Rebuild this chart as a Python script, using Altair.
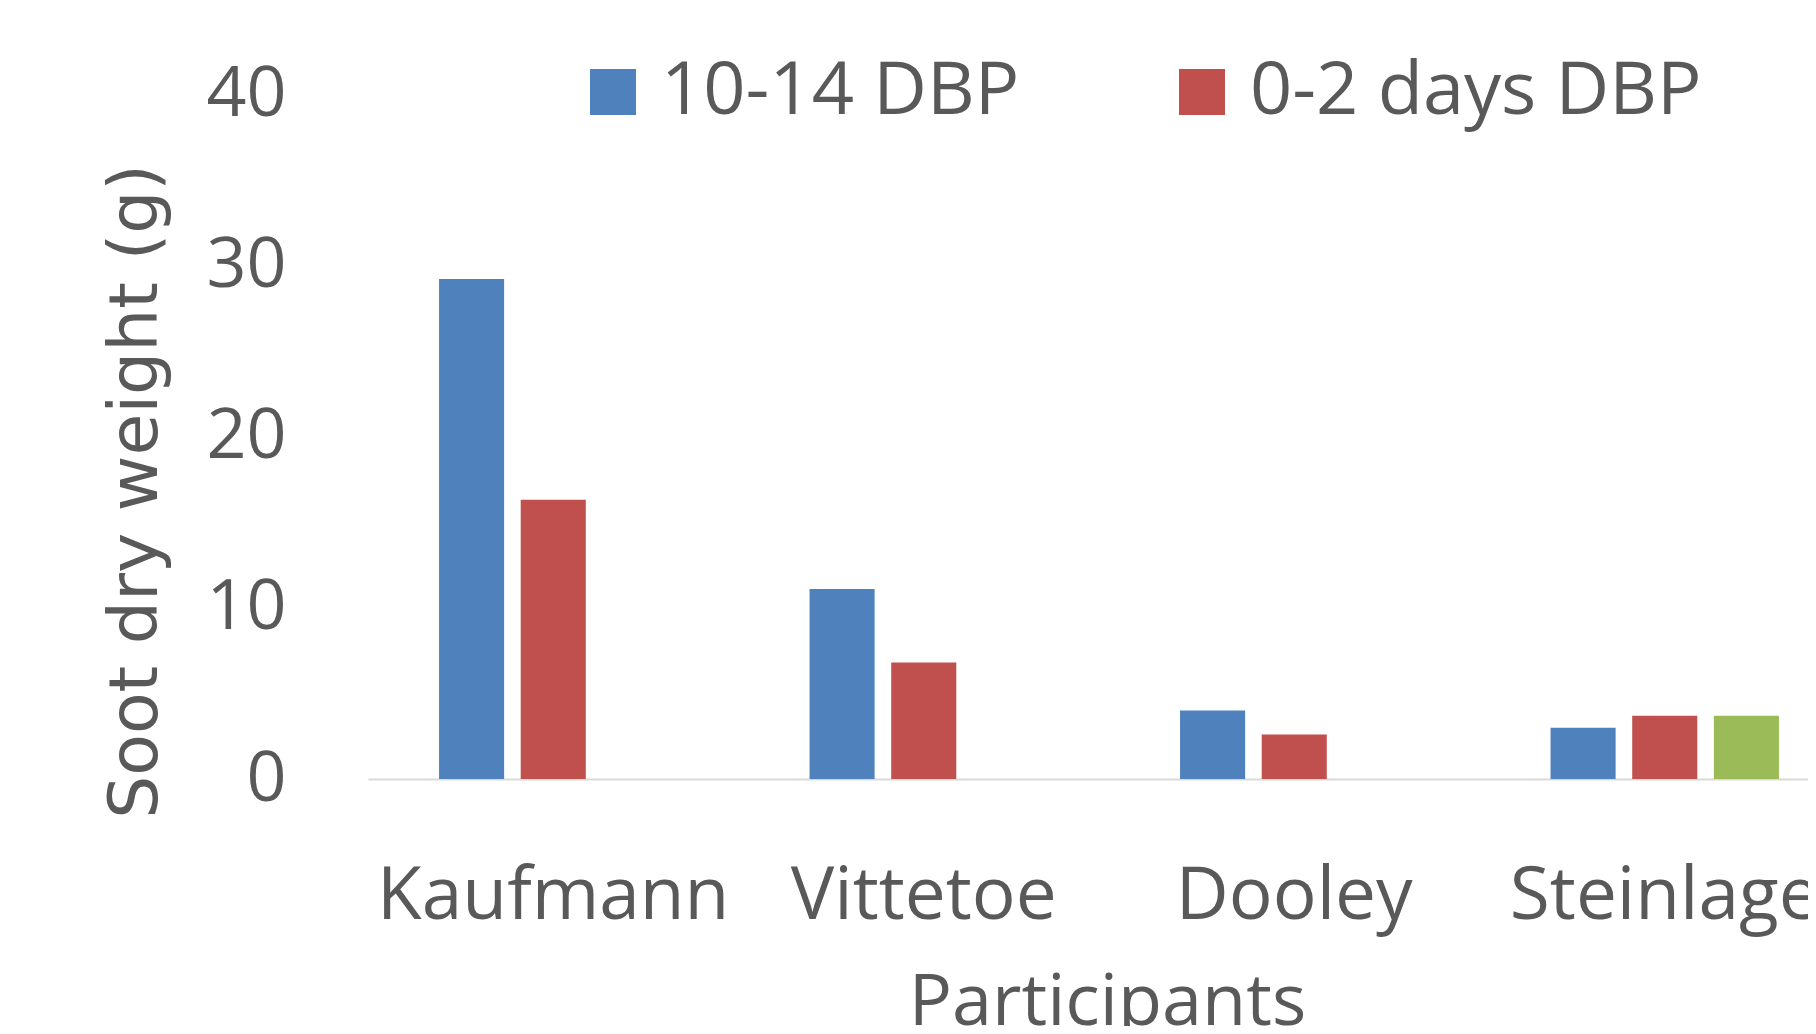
import altair as alt
import pandas as pd

participants = ["Kaufmann", "Vittetoe", "Dooley", "Steinlage"]
series = ["10-14 DBP", "0-2 days DBP", "Series3"]
colors = ["#4F81BD", "#C0504D", "#9BBB59"]
s1 = [29.2, 11.1, 4.0, 3.0]
s2 = [16.3, 6.8, 2.6, 3.7]
s3 = [None, None, None, 3.7]

rows = []
for name, vals in zip(series, [s1, s2, s3]):
    for p, v in zip(participants, vals):
        if v is not None:
            rows.append({"Participant": p, "Series": name, "Value": v})
df = pd.DataFrame(rows)

TXT = "#595959"

chart = alt.Chart(df).mark_bar().encode(
    x=alt.X(
        "Participant:N",
        sort=participants,
        scale=alt.Scale(domain=participants, range=[0, 1482], paddingInner=0, paddingOuter=0),
        axis=alt.Axis(
            title="Participants", labelAngle=0, labelFont="Open Sans", labelFontSize=73,
            labelColor=TXT, labelPadding=81, labelBaseline="top", labelLimit=1000,
            labelOverlap=False, ticks=False, domainColor="#D9D9D9", domainWidth=2,
            titleFont="Open Sans", titleFontSize=72, titleFontWeight="normal", titleColor=TXT,
            titleX=739, titleY=245, titleBaseline="alphabetic",
        ),
    ),
    xOffset=alt.XOffset(
        "Series:N", sort=series,
        scale=alt.Scale(domain=series, paddingInner=0.203, paddingOuter=0.87),
    ),
    y=alt.Y(
        "Value:Q",
        scale=alt.Scale(domain=[0, 40], nice=False),
        axis=alt.Axis(
            values=[0, 10, 20, 30, 40], title="Soot dry weight (g)", grid=False, domain=False,
            ticks=False, labelFont="Open Sans", labelFontSize=70, labelColor=TXT,
            labelPadding=82, labelLimit=1000,
            titleFont="DejaVu Sans", titleFontSize=68, titleFontWeight="normal", titleColor=TXT,
            titleX=-212, titleY=397, titleBaseline="alphabetic", titleAlign="center",
        ),
    ),
    color=alt.Color(
        "Series:N",
        scale=alt.Scale(domain=series, range=colors),
        legend=alt.Legend(
            values=series[:2], orient="none", legendX=208, legendY=-39, direction="horizontal",
            title=None, symbolType="square", symbolSize=2116, symbolStrokeWidth=0,
            symbolOpacity=1, labelFontSize=74, labelFont="Open Sans", labelColor=TXT,
            labelOffset=11, columnPadding=145, labelLimit=1000,
        ),
    ),
).properties(
    width=1440,
    height=685,
    autosize=alt.AutoSizeParams(type="none"),
    padding={"left": 360, "top": 86, "right": 0, "bottom": 247},
).configure_view(stroke=None)

chart.save("out.html", embed_options={"renderer": "svg", "actions": False})
